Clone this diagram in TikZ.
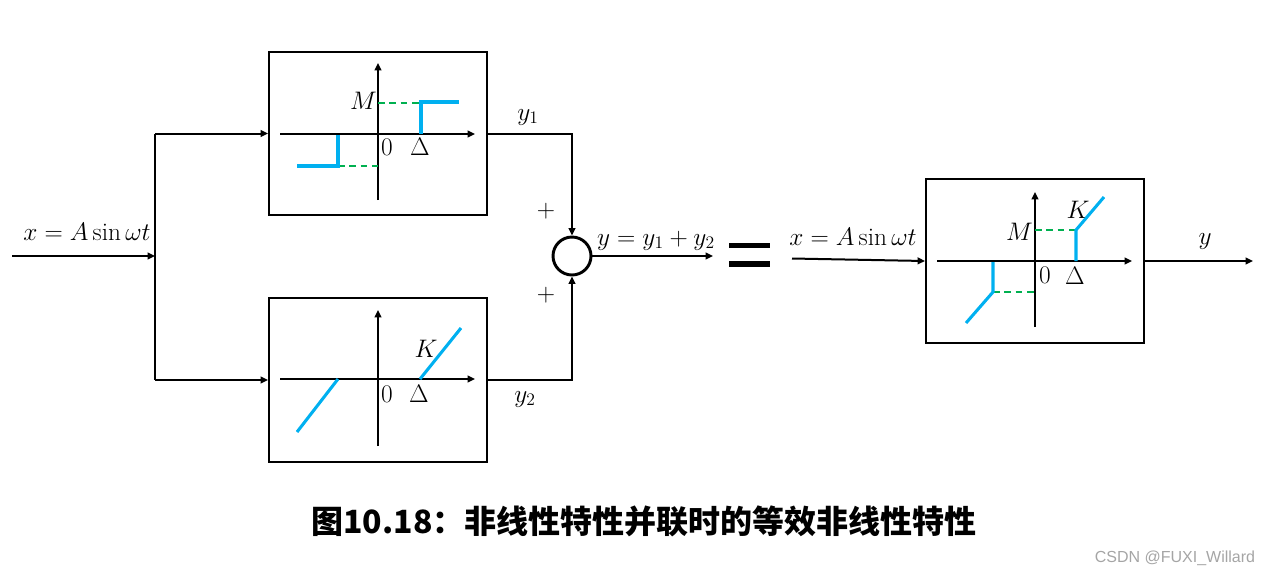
\documentclass[tikz,border=0pt]{standalone}
\usepackage{fontspec}
\newfontfamily\cjk{Noto Sans CJK SC}
\newfontfamily\wm{Liberation Sans}
\usetikzlibrary{arrows.meta}
\definecolor{cblue}{RGB}{0,176,240}
\definecolor{cgreen}{RGB}{0,176,80}
\definecolor{wmgray}{RGB}{165,165,165}
\begin{document}
\begin{tikzpicture}[x=0.75pt,y=-0.75pt,
  box/.style={draw,line width=1.5pt,minimum width=163.5pt,minimum height=122.5pt,inner sep=0},
  sumnode/.style={draw,circle,line width=2.2pt,minimum size=28.5pt,inner sep=0},
  wire/.style={line width=1.5pt},
  sig/.style={line width=1.5pt,-{Triangle[length=5.5pt,width=5pt]}},
  ax/.style={line width=1.5pt,-{Triangle[length=5.5pt,width=5pt]}},
  nl/.style={cblue,line width=2.3pt},
  dsh/.style={cgreen,line width=1.5pt,dash pattern=on 5pt off 3.5pt},
  lab/.style={font=\fontsize{17.28}{20}\selectfont,inner sep=0,scale=1.1},
]
\useasboundingbox (0,0) rectangle (1271,576);

% boxes
\node[box] (top) at (378,133.5) {};
\node[box] (bot) at (378,380) {};
\node[box] (eq) at (1035,261) {};
\node[sumnode] (sum) at (572,256) {};

% equal sign
\fill (729,242.5) rectangle (770,248);
\fill (729,261) rectangle (770,266.5);

% coordinates for connectors
\coordinate (in) at (12,256);
\coordinate (sp) at (155,256);
\coordinate (sp1) at (155,133.5);
\coordinate (sp2) at (155,380);
\coordinate (out) at (713,256);
\coordinate (in2) at (792,258.5);
\coordinate (out2) at (1253,261);

\draw[sig] (in) -- (sp);
\draw[wire] (sp1) -- (sp2);
\draw[sig] (sp1) -- (top.west);
\draw[sig] (sp2) -- (bot.west);
\draw[sig] (top.east) -| (sum.north);
\draw[sig] (bot.east) -| (sum.south);
\draw[sig] (sum.east) -- (out);
\draw[sig] (in2) -- (eq.west);
\draw[sig] (eq.east) -- (out2);

% connector labels
\node[lab] (lx1) at (87,232) {$x = A\sin\omega t$};
\node[lab,anchor=base] (ly1) at (528,120) {$y_1$};
\node[lab,anchor=base] (ly2) at (525,402) {$y_2$};
\node[lab] (p1) at (546,211.5) {$+$};
\node[lab] (p2) at (546,295) {$+$};
\node[lab,anchor=base] (ly) at (656,245) {$y = y_1 + y_2$};
\node[lab,anchor=base] (lx2) at (853,245) {$x = A\sin\omega t$};
\node[lab,anchor=base] (lyo) at (1205,244) {$y$};

% top graph: ideal relay with dead zone
\draw[ax] (280,134) -- (475,134);
\draw[ax] (378,200) -- (378,63);
\draw[dsh] (378,103) -- (421,103);
\draw[dsh] (338,166) -- (378,166);
\draw[nl] (421,134) -- (421,102) -- (459,102);
\draw[nl] (297,166) -- (338,166) -- (338,135);
\node[lab,anchor=east] (tM) at (377,101) {$M$};
\node[lab] (t0) at (387,147) {$0$};
\node[lab] (tD) at (420,147) {$\Delta$};

% bottom graph: dead zone
\draw[ax] (280,379) -- (475,379);
\draw[ax] (378,446) -- (378,310);
\draw[nl] (420,379) -- (461,328);
\draw[nl] (297,432) -- (338,379);
\node[lab] (bK) at (426,349) {$K$};
\node[lab] (b0) at (387,394) {$0$};
\node[lab] (bD) at (419,394) {$\Delta$};

% right graph: equivalent
\draw[ax] (937,261) -- (1132,261);
\draw[ax] (1035,327) -- (1035,192);
\draw[dsh] (1035,230) -- (1076,230);
\draw[dsh] (993,292) -- (1035,292);
\draw[nl] (1076,261) -- (1076,230) -- (1104,197);
\draw[nl] (993,262) -- (993,292) -- (966,323);
\node[lab,anchor=east] (rM) at (1033,232) {$M$};
\node[lab] (rK) at (1078,210) {$K$};
\node[lab] (r0) at (1045,275) {$0$};
\node[lab] (rD) at (1075,276) {$\Delta$};

% caption
\node[inner sep=0,font=\cjk\bfseries\fontsize{24}{28}\selectfont] (cap) at (644,521) {图10.18：非线性特性并联时的等效非线性特性};
\node[inner sep=0,text=wmgray,font=\wm\fontsize{12}{14}\selectfont] (wm) at (1175,558) {CSDN @FUXI\_Willard};
\end{tikzpicture}
\end{document}
